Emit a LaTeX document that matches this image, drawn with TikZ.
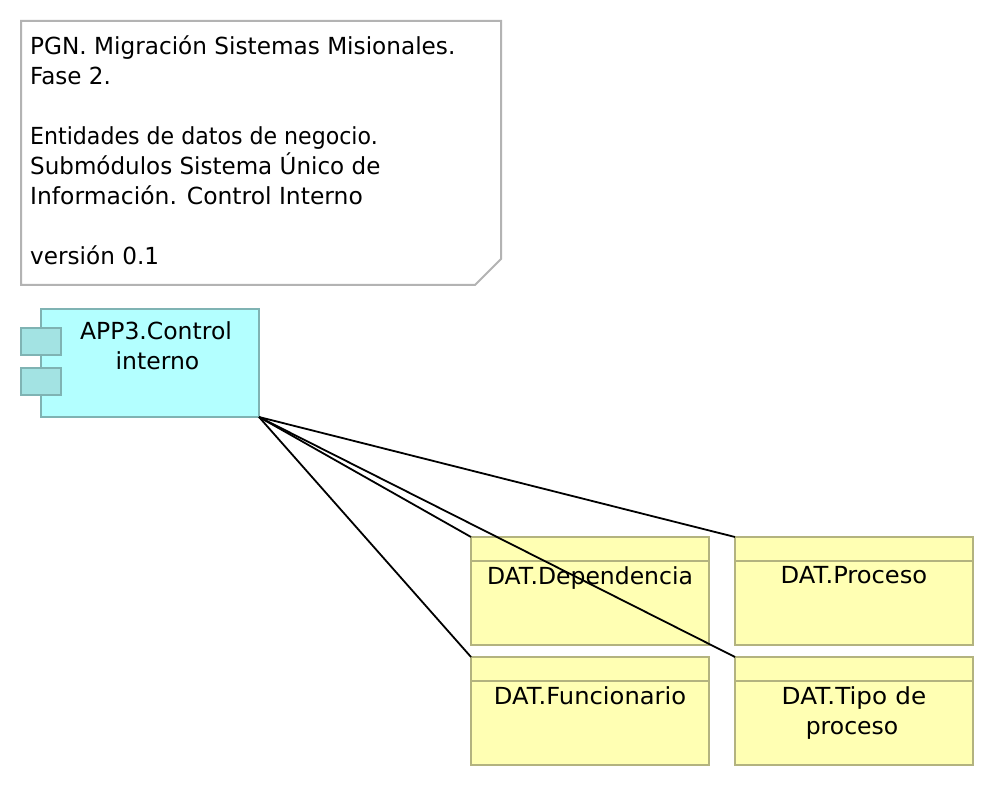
\documentclass[tikz,border=0pt]{standalone}
\usepackage{graphicx}
\usepackage{fontspec}
\setmainfont{DejaVu Sans}
\definecolor{notebd}{HTML}{B3B3B3}
\definecolor{appfill}{HTML}{B3FFFF}
\definecolor{appbd}{HTML}{7FB3B3}
\definecolor{tabfill}{HTML}{A3E3E3}
\definecolor{datfill}{HTML}{FFFFB3}
\definecolor{datbd}{HTML}{B3B37F}
\newcommand{\lbl}{\fontsize{23.5}{30}\selectfont}
\newcommand{\hs}[2]{\scalebox{#1}[1]{#2}}
\tikzset{
  x=1pt,y=-1pt,
  databox/.style={draw=datbd,fill=datfill,line width=2pt,minimum width=238pt,minimum height=108pt,anchor=north west,inner sep=0pt,outer sep=0pt},
  datatext/.style={anchor=north,align=center,text width=230pt,inner sep=0pt,font=\lbl},
  apptab/.style={draw=appbd,fill=tabfill,line width=2pt,minimum width=40pt,minimum height=27pt,anchor=north west,inner sep=0pt,outer sep=0pt},
  conn/.style={draw=black,line width=1.8pt},
}
\begin{document}
\begin{tikzpicture}
\useasboundingbox (0,0) rectangle (994,786);
% note
\draw[draw=notebd,fill=white,line width=2pt] (21,21) -- (501,21) -- (501,259) -- (475,285) -- (21,285) -- cycle;
\node[anchor=north west,align=left,inner sep=0pt,font=\lbl] (note) at (30,36) {\hs{0.986}{PGN. Migración Sistemas Misionales.}\\\hs{0.98}{Fase 2.}\\[30pt]\hs{0.94}{Entidades de datos de negocio.}\\\hs{0.98}{Submódulos Sistema Único de}\\\hs{0.997}{Información. Control Interno}\\[30pt]\hs{0.985}{versión 0.1}};
% application component
\node[draw=appbd,fill=appfill,line width=2pt,minimum width=218pt,minimum height=108pt,anchor=north west,inner sep=0pt,outer sep=0pt] (app) at (41,309) {};
\node[apptab] (tabA) at (21,328) {};
\node[apptab] (tabB) at (21,368) {};
\node[anchor=north,align=center,text width=170pt,inner sep=0pt,font=\lbl] (appt) at (156,321.5) {APP3.Control\\\hspace*{3pt}interno};
% data entities
\node[databox] (dep) at (471,537) {};
\node[databox] (pro) at (735,537) {};
\node[databox] (fun) at (471,657) {};
\node[databox] (tip) at (735,657) {};
\foreach \b in {dep,pro,fun,tip}{
  \draw[draw=datbd,line width=2pt] ([yshift=-24pt]\b.north west) -- ([yshift=-24pt]\b.north east);
}
\node[datatext] (dept) at ([yshift=-29pt]dep.north) {DAT.Dependencia};
\node[datatext] (prot) at ([yshift=-29pt]pro.north) {\hs{1.03}{DAT.Proceso}};
\node[datatext] (funt) at ([yshift=-29pt]fun.north) {\hs{1.03}{DAT.Funcionario}};
\node[datatext] (tipt) at ([yshift=-29pt]tip.north) {\hs{1.05}{DAT.Tipo de}\\\hspace*{-4pt}proceso};
% connectors
\draw[conn] (app.south east) -- (dep.north west);
\draw[conn] (app.south east) -- (pro.north west);
\draw[conn] (app.south east) -- (fun.north west);
\draw[conn] (app.south east) -- (tip.north west);
\end{tikzpicture}
\end{document}
